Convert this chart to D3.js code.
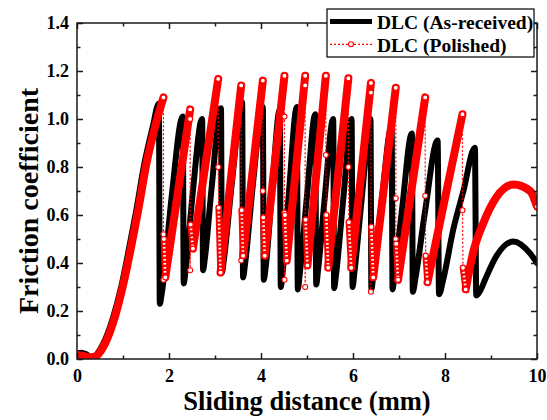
<!DOCTYPE html>
<html>
<head>
<meta charset="utf-8">
<script src="https://cdn.jsdelivr.net/npm/d3@7"></script>
<style>
  html, body { margin: 0; padding: 0; background: #fff; }
  svg { display: block; font-family: "Liberation Serif", "Times New Roman", serif; font-weight: bold; }
</style>
</head>
<body>
<svg id="chart" width="547" height="420"></svg>
<script>
// ---- axis ticks ----
const xTicks = [0, 2, 4, 6, 8, 10];
const xMinorTicks = [1, 3, 5, 7, 9];
const yTicks = [0, 0.2, 0.4, 0.6, 0.8, 1.0, 1.2, 1.4];
const yMinorTicks = [0.1, 0.3, 0.5, 0.7, 0.9, 1.1, 1.3];

const seriesNames = ["DLC (As-received)", "DLC (Polished)"];

// ---- DLC (as-received): friction coefficient vs sliding distance (mm) ----
const asReceivedX = [
  0, 0.10, 0.20, 0.32, 0.56, 0.78, 0.96, 1.14, 1.28, 1.46, 1.65, 1.78,
  1.80, 1.84, 2.06, 2.30,
  2.32, 2.36, 2.52, 2.72,
  2.74, 2.78, 2.93, 3.13,
  3.15, 3.19, 3.37, 3.59,
  3.61, 3.65, 3.82, 4.04,
  4.06, 4.10, 4.24, 4.41,
  4.43, 4.47, 4.61, 4.78,
  4.80, 4.84, 5.00, 5.18,
  5.20, 5.24, 5.39, 5.57,
  5.59, 5.63, 5.79, 5.97,
  5.99, 6.03, 6.19, 6.38,
  6.40, 6.44, 6.62, 6.84,
  6.86, 6.90, 7.07, 7.28,
  7.30, 7.36, 7.57, 7.84,
  7.87, 7.96, 8.18, 8.40, 8.65,
  8.68, 8.78, 8.87, 9.12, 9.49, 9.85, 10.0
];
const asReceivedY = [
  0.024, 0.026, 0.020, 0.006, 0.060, 0.170, 0.300, 0.470, 0.610, 0.810, 0.970, 1.065,
  0.230, 0.270, 0.680, 1.010,
  0.315, 0.370, 0.700, 1.000,
  0.370, 0.420, 0.720, 1.045,
  0.360, 0.410, 0.740, 1.070,
  0.340, 0.390, 0.720, 1.050,
  0.330, 0.380, 0.700, 1.040,
  0.300, 0.360, 0.700, 1.050,
  0.290, 0.350, 0.680, 1.020,
  0.310, 0.370, 0.680, 1.000,
  0.295, 0.350, 0.670, 1.000,
  0.300, 0.360, 0.670, 1.000,
  0.290, 0.350, 0.650, 0.970,
  0.290, 0.350, 0.630, 0.940,
  0.280, 0.340, 0.620, 0.910,
  0.270, 0.330, 0.540, 0.700, 0.880,
  0.265, 0.290, 0.330, 0.430, 0.490, 0.440, 0.400
];

// ---- DLC (polished) ----
// running-in climb before the first peak
const polishedStartX = [0, 0.12, 0.26, 0.39, 0.61, 0.83, 1.01, 1.19, 1.33, 1.51, 1.70];
const polishedStartY = [0.017, 0.014, 0.007, 0.010, 0.065, 0.180, 0.315, 0.480, 0.620, 0.815, 0.970];
// stick-slip peaks
const polishedPeakX = [1.88, 2.46, 3.07, 3.57, 4.04, 4.51, 4.96, 5.41, 5.90, 6.39, 6.93, 7.57, 8.38];
const polishedPeakY = [1.09, 1.04, 1.167, 1.14, 1.16, 1.18, 1.18, 1.18, 1.17, 1.15, 1.13, 1.09, 1.02];
// isolated readings recorded while the coefficient falls after each peak
const polishedDropY = [
  [0.52, 0.33], [1.00, 0.37], [0.80], [0.41], [0.70], [1.01, 0.61, 0.33],
  [1.14, 0.30], [0.85], [0.80], [1.11, 0.28], [0.67, 0.50], [0.68], [0.62]
];
// settling band right after each drop, then the trough where the next climb starts
const polishedSettleY = [0.50, 0.56, 0.63, 0.62, 0.59, 0.60, 0.58, 0.60, 0.57, 0.55, 0.48, 0.43, 0.38];
const polishedTroughX = [1.92, 2.52, 3.12, 3.61, 4.08, 4.56, 5.01, 5.46, 5.96, 6.44, 6.98, 7.62, 8.45];
const polishedTroughY = [0.34, 0.46, 0.36, 0.43, 0.43, 0.41, 0.39, 0.38, 0.38, 0.34, 0.33, 0.32, 0.29];
// final broad hump
const polishedTailX = [8.62, 8.83, 9.12, 9.49, 9.85, 10.0];
const polishedTailY = [0.45, 0.565, 0.675, 0.727, 0.70, 0.635];

// ---- layout ----
const svg = d3.select("#chart");
const plot = { left: 77, right: 537, top: 23, bottom: 359 };

const x = d3.scaleLinear().domain([0, 10]).range([plot.left, plot.right]);
const y = d3.scaleLinear().domain([0, 1.4]).range([plot.bottom, plot.top]);

const axisColor = "#1a1a1a";
const red = "#ff0000";

// ---- assemble the polished trace ----
const polishedClimbs = [];  // densely sampled climbs
const polishedSettles = []; // dense settling columns at the foot of each drop
const polishedSeq = [];     // all readings in order
const polishedMarks = [];   // readings drawn as open markers
let climb = polishedStartX.map((d, i) => [d, polishedStartY[i]]);
polishedPeakX.forEach((px, i) => {
  const peak = [px, polishedPeakY[i]];
  climb.push(peak);
  polishedClimbs.push(climb);
  polishedSeq.push(...climb);
  polishedMarks.push(peak);
  polishedDropY[i].forEach(v => {
    const p = [px, v];
    polishedSeq.push(p);
    polishedMarks.push(p);
  });
  const settle = [px + 0.01, polishedSettleY[i]];
  const trough = [polishedTroughX[i], polishedTroughY[i]];
  polishedSettles.push([settle, trough]);
  polishedSeq.push(settle);
  polishedMarks.push(settle, trough);
  climb = [trough];
});
polishedTailX.forEach((d, i) => climb.push([d, polishedTailY[i]]));
polishedClimbs.push(climb);
polishedSeq.push(...climb);
polishedMarks.push(climb[climb.length - 1]);

const asReceived = asReceivedX.map((d, i) => [d, asReceivedY[i]]);

// ---- series ----
const clipId = "plot-clip";
svg.append("clipPath").attr("id", clipId)
  .append("rect")
  .attr("x", plot.left).attr("y", plot.top - 10)
  .attr("width", plot.right - plot.left).attr("height", plot.bottom - plot.top + 10);

const series = svg.append("g").attr("clip-path", `url(#${clipId})`);

const smoothLine = d3.line().x(d => x(d[0])).y(d => y(d[1])).curve(d3.curveMonotoneX);
const straightLine = d3.line().x(d => x(d[0])).y(d => y(d[1]));

series.append("path")
  .attr("d", smoothLine(asReceived))
  .attr("fill", "none")
  .attr("stroke", "#000")
  .attr("stroke-width", 6)
  .attr("stroke-linejoin", "round")
  .attr("stroke-linecap", "round");

series.append("path")
  .attr("d", straightLine(polishedSeq))
  .attr("fill", "none")
  .attr("stroke", red)
  .attr("stroke-width", 1.2)
  .attr("stroke-dasharray", "2,2");

series.selectAll("path.climb")
  .data(polishedClimbs)
  .join("path")
  .attr("class", "climb")
  .attr("d", r => (r.length > 2 ? smoothLine : straightLine)(r))
  .attr("fill", "none")
  .attr("stroke", red)
  .attr("stroke-width", 8)
  .attr("stroke-linejoin", "round")
  .attr("stroke-linecap", "round");

// settling columns: stacked open markers
series.selectAll("path.settle")
  .data(polishedSettles)
  .join("path")
  .attr("class", "settle")
  .attr("d", straightLine)
  .attr("fill", "none")
  .attr("stroke", red)
  .attr("stroke-width", 6.5)
  .attr("stroke-linecap", "round");
series.selectAll("path.settle-core")
  .data(polishedSettles)
  .join("path")
  .attr("class", "settle-core")
  .attr("d", straightLine)
  .attr("fill", "none")
  .attr("stroke", "#fff")
  .attr("stroke-width", 2.6)
  .attr("stroke-dasharray", "1.6,2.4");

series.selectAll("circle.mark")
  .data(polishedMarks)
  .join("circle")
  .attr("class", "mark")
  .attr("cx", d => x(d[0]))
  .attr("cy", d => y(d[1]))
  .attr("r", 2.5)
  .attr("fill", "#fff")
  .attr("stroke", red)
  .attr("stroke-width", 1.1);

// ---- axes (ticks point inward on all four sides) ----
function styleAxis(g) {
  g.select(".domain").remove();
  g.selectAll(".tick line").attr("stroke", axisColor).attr("stroke-width", 1.5);
  g.selectAll(".tick text").attr("fill", "#000").attr("font-size", 18)
    .attr("font-family", "'Liberation Serif', 'Times New Roman', serif").attr("font-weight", "bold");
}

const fmtY = d3.format(".1f");

svg.append("g").attr("transform", `translate(0,${plot.bottom})`)
  .call(d3.axisBottom(x).tickValues(xTicks).tickSize(-6).tickSizeOuter(0).tickPadding(10).tickFormat(d3.format("d")))
  .call(styleAxis);
svg.append("g").attr("transform", `translate(0,${plot.bottom})`)
  .call(d3.axisBottom(x).tickValues(xMinorTicks).tickSize(-3.5).tickSizeOuter(0).tickFormat(""))
  .call(styleAxis);
svg.append("g").attr("transform", `translate(0,${plot.top})`)
  .call(d3.axisTop(x).tickValues(xTicks).tickSize(-6).tickSizeOuter(0).tickFormat(""))
  .call(styleAxis);
svg.append("g").attr("transform", `translate(0,${plot.top})`)
  .call(d3.axisTop(x).tickValues(xMinorTicks).tickSize(-3.5).tickSizeOuter(0).tickFormat(""))
  .call(styleAxis);

svg.append("g").attr("transform", `translate(${plot.left},0)`)
  .call(d3.axisLeft(y).tickValues(yTicks).tickSize(-6).tickSizeOuter(0).tickPadding(8).tickFormat(fmtY))
  .call(styleAxis);
svg.append("g").attr("transform", `translate(${plot.left},0)`)
  .call(d3.axisLeft(y).tickValues(yMinorTicks).tickSize(-3.5).tickSizeOuter(0).tickFormat(""))
  .call(styleAxis);
svg.append("g").attr("transform", `translate(${plot.right},0)`)
  .call(d3.axisRight(y).tickValues(yTicks).tickSize(-6).tickSizeOuter(0).tickFormat(""))
  .call(styleAxis);
svg.append("g").attr("transform", `translate(${plot.right},0)`)
  .call(d3.axisRight(y).tickValues(yMinorTicks).tickSize(-3.5).tickSizeOuter(0).tickFormat(""))
  .call(styleAxis);

svg.append("rect")
  .attr("x", plot.left).attr("y", plot.top)
  .attr("width", plot.right - plot.left).attr("height", plot.bottom - plot.top)
  .attr("fill", "none").attr("stroke", axisColor).attr("stroke-width", 1.5);

// ---- axis titles ----
svg.append("text")
  .attr("x", (plot.left + plot.right) / 2)
  .attr("y", 410)
  .attr("text-anchor", "middle")
  .attr("font-size", 26.5)
  .text("Sliding distance (mm)");

svg.append("text")
  .attr("transform", `translate(38,${(plot.top + plot.bottom) / 2 + 10}) rotate(-90)`)
  .attr("text-anchor", "middle")
  .attr("font-size", 28)
  .text("Friction coefficient");

// ---- legend ----
const legend = svg.append("g");
legend.append("rect")
  .attr("x", 327).attr("y", 9)
  .attr("width", 207).attr("height", 48)
  .attr("fill", "#fff").attr("stroke", "#000").attr("stroke-width", 1.2);

legend.append("line")
  .attr("x1", 330).attr("x2", 372).attr("y1", 21.5).attr("y2", 21.5)
  .attr("stroke", "#000").attr("stroke-width", 5);
legend.append("text")
  .attr("x", 377).attr("y", 28.5)
  .attr("font-size", 19.5)
  .text(seriesNames[0]);

legend.append("line")
  .attr("x1", 330).attr("x2", 372).attr("y1", 44.3).attr("y2", 44.3)
  .attr("stroke", red).attr("stroke-width", 1.2).attr("stroke-dasharray", "2,2");
legend.append("circle")
  .attr("cx", 351).attr("cy", 44.3).attr("r", 2.5)
  .attr("fill", "#fff").attr("stroke", red).attr("stroke-width", 1.1);
legend.append("text")
  .attr("x", 377).attr("y", 51.5)
  .attr("font-size", 19.5)
  .text(seriesNames[1]);
</script>
</body>
</html>
